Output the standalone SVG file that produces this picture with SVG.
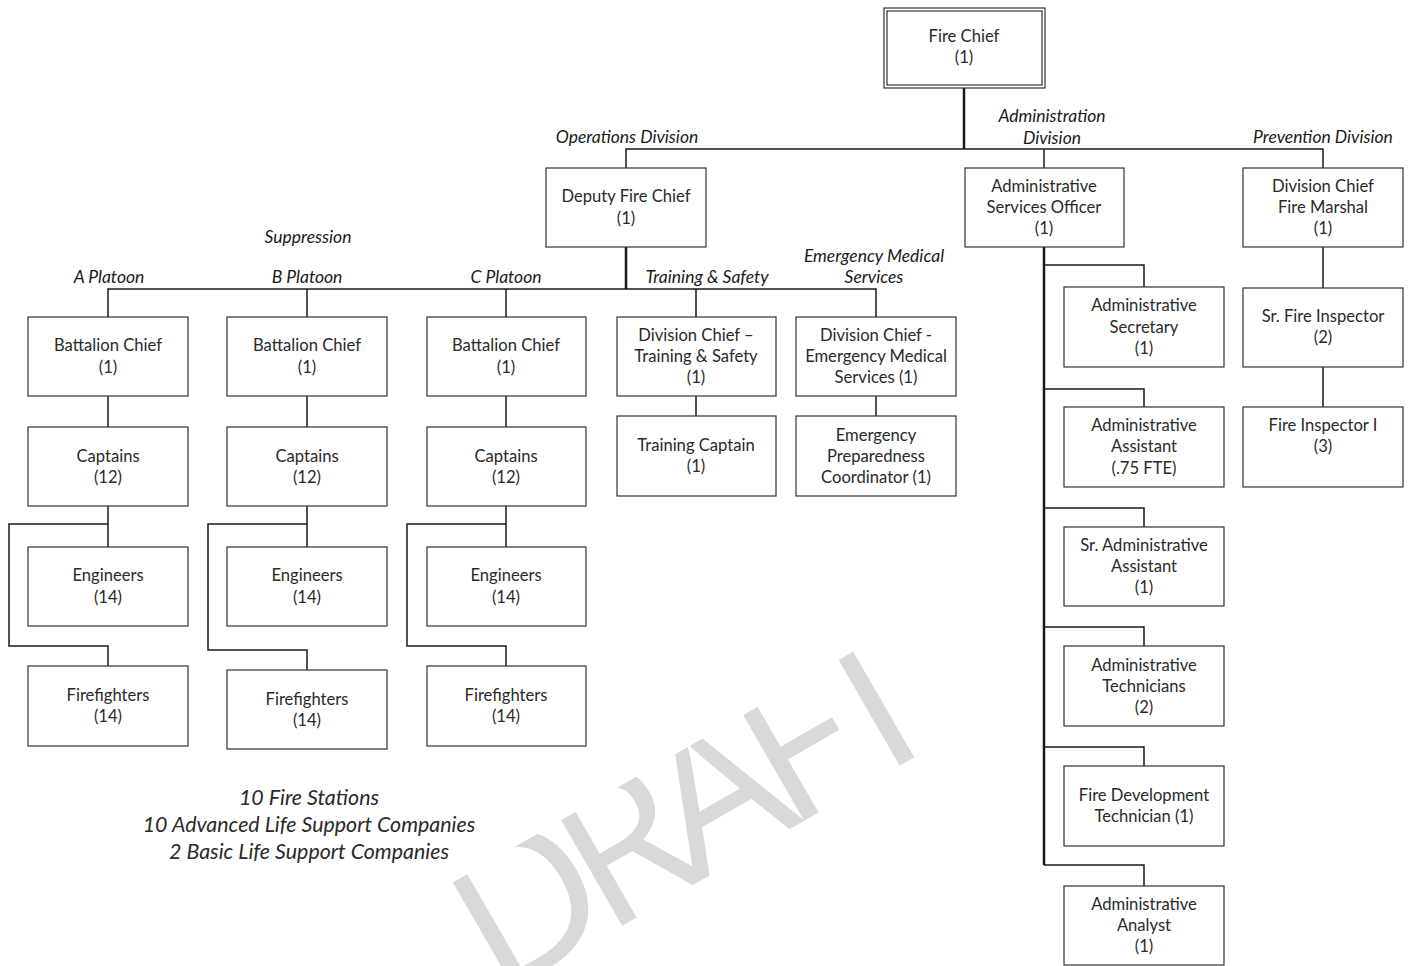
<svg xmlns="http://www.w3.org/2000/svg" width="1410" height="966" viewBox="0 0 1410 966">
<style>
.bg{fill:#ffffff}
.box{fill:#ffffff;stroke:#333333;stroke-width:1.2}
.t{font-family:Lato,"Open Sans","Liberation Sans",sans-serif;font-size:16.6px;fill:#2a2a2a;text-anchor:middle}
.lab{font-family:Lato,"Open Sans","Liberation Sans",sans-serif;font-size:17.5px;font-style:italic;fill:#1a1a1a;text-anchor:middle}
.foot{font-family:Lato,"Open Sans","Liberation Sans",sans-serif;font-size:21.4px;font-style:italic;fill:#2a2a2a;text-anchor:middle}
.ln{fill:none;stroke:#1a1a1a;stroke-width:1.5}
.trunk{fill:none;stroke:#1a1a1a;stroke-width:2.5}
.wm{font-family:"Open Sans","Liberation Sans",sans-serif;font-size:200px;font-weight:400;letter-spacing:-20px;fill:#d8d9db}
</style>
<defs>
<clipPath id="wmclip" clipPathUnits="userSpaceOnUse">
<rect x="-60" y="-122" width="800" height="200"/>
</clipPath>
</defs>
<rect class="bg" x="0" y="0" width="1410" height="966"/>
<g id="watermark" transform="translate(497,998) rotate(-30)">
<text class="wm" x="0" y="0" clip-path="url(#wmclip)">DRAFT</text>
</g>
<g id="connectors">
<path class="trunk" d="M964,88 V149"/>
<path class="ln" d="M626,168 V149 H1323 V168"/>
<path class="ln" d="M1044,149 V168"/>
<path class="trunk" d="M626,247 V289"/>
<path class="ln" d="M108,317 V289 H876 V317"/>
<path class="ln" d="M307,289 V317 M506,289 V317 M696,289 V317"/>
<path class="ln" d="M108,396 V427 M108,506 V547 M108,524 H9 V646 H108 V666"/>
<path class="ln" d="M307,396 V427 M307,506 V547 M307,524 H208 V650 H307 V670"/>
<path class="ln" d="M506,396 V427 M506,506 V547 M506,524 H407 V646 H506 V666"/>
<path class="ln" d="M696,396 V416 M876,396 V416"/>
<path class="trunk" d="M1044,247 V865"/>
<path class="ln" d="M1044,265 H1144 V287 M1044,389 H1144 V407 M1044,508 H1144 V527 M1044,627 H1144 V646 M1044,747 H1144 V766 M1044,865 H1144 V886"/>
<path class="ln" d="M1323,247 V288 M1323,367 V407"/>
</g>
<g id="fire-chief">
<rect class="box" x="884" y="8" width="161" height="80"/>
<rect class="box" x="887" y="11" width="155" height="74"/>
<text class="t" x="964" y="42">Fire Chief</text>
<text class="t" x="964" y="63">(1)</text>
</g>
<g id="labels">
<text class="lab" x="627" y="143">Operations Division</text>
<text class="lab" x="1052" y="122">Administration</text>
<text class="lab" x="1052" y="144">Division</text>
<text class="lab" x="1323" y="143">Prevention Division</text>
<text class="lab" x="308" y="243">Suppression</text>
<text class="lab" x="109" y="283">A Platoon</text>
<text class="lab" x="307" y="283">B Platoon</text>
<text class="lab" x="506" y="283">C Platoon</text>
<text class="lab" x="707" y="283">Training &amp; Safety</text>
<text class="lab" x="874" y="262">Emergency Medical</text>
<text class="lab" x="874" y="283">Services</text>
</g>
<g id="deputy-fire-chief">
<rect class="box" x="546" y="168" width="160" height="79"/>
<text class="t" x="626" y="202">Deputy Fire Chief</text>
<text class="t" x="626" y="224">(1)</text>
</g>
<g id="admin-services-officer">
<rect class="box" x="965" y="168" width="159" height="79"/>
<text class="t" x="1044" y="192">Administrative</text>
<text class="t" x="1044" y="213">Services Officer</text>
<text class="t" x="1044" y="234">(1)</text>
</g>
<g id="fire-marshal">
<rect class="box" x="1243" y="168" width="160" height="79"/>
<text class="t" x="1323" y="192">Division Chief</text>
<text class="t" x="1323" y="213">Fire Marshal</text>
<text class="t" x="1323" y="234">(1)</text>
</g>
<g id="a-battalion">
<rect class="box" x="28" y="317" width="160" height="79"/>
<text class="t" x="108" y="351">Battalion Chief</text>
<text class="t" x="108" y="373">(1)</text>
</g>
<g id="a-captains">
<rect class="box" x="28" y="427" width="160" height="79"/>
<text class="t" x="108" y="462">Captains</text>
<text class="t" x="108" y="483">(12)</text>
</g>
<g id="a-engineers">
<rect class="box" x="28" y="547" width="160" height="79"/>
<text class="t" x="108" y="581">Engineers</text>
<text class="t" x="108" y="603">(14)</text>
</g>
<g id="a-firefighters">
<rect class="box" x="28" y="666" width="160" height="80"/>
<text class="t" x="108" y="701">Firefighters</text>
<text class="t" x="108" y="722">(14)</text>
</g>
<g id="b-battalion">
<rect class="box" x="227" y="317" width="160" height="79"/>
<text class="t" x="307" y="351">Battalion Chief</text>
<text class="t" x="307" y="373">(1)</text>
</g>
<g id="b-captains">
<rect class="box" x="227" y="427" width="160" height="79"/>
<text class="t" x="307" y="462">Captains</text>
<text class="t" x="307" y="483">(12)</text>
</g>
<g id="b-engineers">
<rect class="box" x="227" y="547" width="160" height="79"/>
<text class="t" x="307" y="581">Engineers</text>
<text class="t" x="307" y="603">(14)</text>
</g>
<g id="b-firefighters">
<rect class="box" x="227" y="670" width="160" height="79"/>
<text class="t" x="307" y="705">Firefighters</text>
<text class="t" x="307" y="726">(14)</text>
</g>
<g id="c-battalion">
<rect class="box" x="427" y="317" width="159" height="79"/>
<text class="t" x="506" y="351">Battalion Chief</text>
<text class="t" x="506" y="373">(1)</text>
</g>
<g id="c-captains">
<rect class="box" x="427" y="427" width="159" height="79"/>
<text class="t" x="506" y="462">Captains</text>
<text class="t" x="506" y="483">(12)</text>
</g>
<g id="c-engineers">
<rect class="box" x="427" y="547" width="159" height="79"/>
<text class="t" x="506" y="581">Engineers</text>
<text class="t" x="506" y="603">(14)</text>
</g>
<g id="c-firefighters">
<rect class="box" x="427" y="666" width="159" height="80"/>
<text class="t" x="506" y="701">Firefighters</text>
<text class="t" x="506" y="722">(14)</text>
</g>
<g id="training-chief">
<rect class="box" x="617" y="317" width="159" height="79"/>
<text class="t" x="696" y="341">Division Chief –</text>
<text class="t" x="696" y="362">Training &amp; Safety</text>
<text class="t" x="696" y="383">(1)</text>
</g>
<g id="training-captain">
<rect class="box" x="617" y="416" width="159" height="80"/>
<text class="t" x="696" y="451">Training Captain</text>
<text class="t" x="696" y="472">(1)</text>
</g>
<g id="ems-chief">
<rect class="box" x="796" y="317" width="160" height="79"/>
<text class="t" x="876" y="341">Division Chief -</text>
<text class="t" x="876" y="362">Emergency Medical</text>
<text class="t" x="876" y="383">Services (1)</text>
</g>
<g id="ems-coordinator">
<rect class="box" x="796" y="416" width="160" height="80"/>
<text class="t" x="876" y="441">Emergency</text>
<text class="t" x="876" y="462">Preparedness</text>
<text class="t" x="876" y="483">Coordinator (1)</text>
</g>
<g id="admin-secretary">
<rect class="box" x="1064" y="287" width="160" height="80"/>
<text class="t" x="1144" y="311">Administrative</text>
<text class="t" x="1144" y="333">Secretary</text>
<text class="t" x="1144" y="354">(1)</text>
</g>
<g id="admin-assistant">
<rect class="box" x="1064" y="407" width="160" height="80"/>
<text class="t" x="1144" y="431">Administrative</text>
<text class="t" x="1144" y="452">Assistant</text>
<text class="t" x="1144" y="474">(.75 FTE)</text>
</g>
<g id="sr-admin-assistant">
<rect class="box" x="1064" y="527" width="160" height="79"/>
<text class="t" x="1144" y="551">Sr. Administrative</text>
<text class="t" x="1144" y="572">Assistant</text>
<text class="t" x="1144" y="593">(1)</text>
</g>
<g id="admin-technicians">
<rect class="box" x="1064" y="646" width="160" height="80"/>
<text class="t" x="1144" y="671">Administrative</text>
<text class="t" x="1144" y="692">Technicians</text>
<text class="t" x="1144" y="713">(2)</text>
</g>
<g id="fire-dev-tech">
<rect class="box" x="1064" y="766" width="160" height="80"/>
<text class="t" x="1144" y="801">Fire Development</text>
<text class="t" x="1144" y="822">Technician (1)</text>
</g>
<g id="admin-analyst">
<rect class="box" x="1064" y="886" width="160" height="79"/>
<text class="t" x="1144" y="910">Administrative</text>
<text class="t" x="1144" y="931">Analyst</text>
<text class="t" x="1144" y="952">(1)</text>
</g>
<g id="sr-fire-inspector">
<rect class="box" x="1243" y="288" width="160" height="79"/>
<text class="t" x="1323" y="322">Sr. Fire Inspector</text>
<text class="t" x="1323" y="343">(2)</text>
</g>
<g id="fire-inspector">
<rect class="box" x="1243" y="407" width="160" height="80"/>
<text class="t" x="1323" y="431">Fire Inspector I</text>
<text class="t" x="1323" y="452">(3)</text>
</g>
<g id="footnote">
<text class="foot" x="309" y="805">10 Fire Stations</text>
<text class="foot" x="309" y="832">10 Advanced Life Support Companies</text>
<text class="foot" x="309" y="859">2 Basic Life Support Companies</text>
</g>
</svg>
